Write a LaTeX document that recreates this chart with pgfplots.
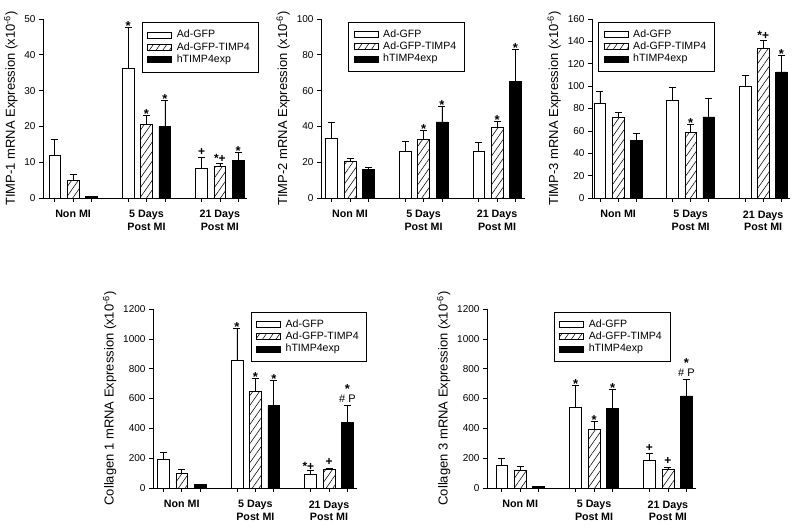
\documentclass[border=0pt]{standalone}
\usepackage{pgfplots}
\pgfplotsset{compat=1.18}
\usepackage{fontspec}
\setmainfont{Liberation Sans}
\usetikzlibrary{patterns.meta}

\tikzset{
  ann/.style={anchor=south, inner sep=0pt, yshift=-3.5pt, font=\fontsize{13}{13}\selectfont\bfseries},
  annp/.style={anchor=south, inner sep=0pt, yshift=2pt, font=\fontsize{12}{12}\selectfont\bfseries},
  annsp/.style={anchor=south, inner sep=0pt, yshift=0pt, font=\fontsize{12}{12}\selectfont\bfseries},
  annhp/.style={anchor=south, inner sep=0pt, yshift=2.5pt, align=center, font=\fontsize{11}{8.5}\selectfont},
}
\pgfplotsset{
  panel/.style={
    scale only axis,
    height=179pt,
    axis lines=left,
    axis line style={-, line width=0.6pt, black},
    ymin=0,
    xtick={-0.25,0,0.25,0.75,1,1.25,1.75,2,2.25},
    xticklabels={{},{Non MI},{},{},{5 Days\\Post MI},{},{},{21 Days\\Post MI},{}},
    xticklabel style={align=center, yshift=-5pt, font=\fontsize{10.7}{12.3}\selectfont\bfseries},
    tick align=outside,
    major tick length=4pt,
    tick style={line width=0.6pt, black},
    yticklabel style={font=\fontsize{10}{12}\selectfont},
    ylabel style={font=\fontsize{13}{15}\selectfont},
    /pgf/number format/assume math mode=true,
    /pgf/number format/1000 sep={},
    legend image code/.code={\draw[##1, line width=0.6pt] (0pt,-3pt) rectangle (24pt,3pt);},
    legend style={anchor=north west, draw=black, line width=0.6pt,
      font=\fontsize{10.6}{12}\selectfont,
      inner xsep=5pt, inner ysep=6.5pt,
      nodes={inner xsep=3pt, inner ysep=1.2pt, text height=7.8pt, text depth=2pt},
      /tikz/column sep=2pt},
    legend cell align=left,
    legend entries={Ad-GFP,Ad-GFP-TIMP4,hTIMP4exp},
    every axis plot/.append style={ybar, bar width=0.16, bar shift=0pt, draw=black, line width=0.6pt,
      error bars/y dir=plus, error bars/y explicit,
      error bars/error bar style={line width=0.6pt, black},
      error bars/error mark options={rotate=90, mark size=3.5pt, line width=0.6pt, black}},
  },
  wbar/.style={fill=white},
  hbar/.style={pattern={Lines[angle=55,distance=5.5pt,line width=0.55pt]}, pattern color=black},
  bbar/.style={fill=black},
}

\begin{document}
\begin{tikzpicture}
\path (0,0) rectangle (800pt,532pt);

% ---------- Panel 1: TIMP-1 ----------
\begin{axis}[panel, at={(43pt,334pt)}, anchor=south west, width=204pt,
  xmin=-0.41, xmax=2.37, ymax=50, ytick={0,10,20,30,40,50},
  ylabel={TIMP-1 mRNA Expression (x10\textsuperscript{-6})},
  legend style={at={(0.485,0.983)}}]
\addplot[wbar] coordinates {(-0.25,11.9) +- (0,4.6) (0.75,36.2) +- (0,11.4) (1.75,8.4) +- (0,2.9)};
\addplot[hbar] coordinates {(0,4.9) +- (0,1.6) (1,20.6) +- (0,2.5) (2,8.9) +- (0,0.9)};
\addplot[bbar] coordinates {(0.25,0.4) +- (0,0.1) (1.25,19.9) +- (0,7.5) (2.25,10.5) +- (0,2.4)};
\node[ann] at (axis cs:0.75,47.6) {*};
\node[ann] at (axis cs:1,23.1) {*};
\node[ann] at (axis cs:1.25,27.4) {*};
\node[annp] at (axis cs:1.75,11.3) {+};
\node[annsp] at (axis cs:2,9.8) {*+};
\node[ann] at (axis cs:2.25,12.9) {*};
\end{axis}

% ---------- Panel 2: TIMP-2 ----------
\begin{axis}[panel, at={(321pt,334pt)}, anchor=south west, width=204pt,
  xmin=-0.395, xmax=2.38, ymax=100, ytick={0,20,40,60,80,100},
  ylabel={TIMP-2 mRNA Expression (x10\textsuperscript{-6})},
  legend style={at={(0.134,0.985)}}]
\addplot[wbar] coordinates {(-0.25,33.2) +- (0,9.2) (0.75,26.1) +- (0,5.6) (1.75,26.3) +- (0,4.9)};
\addplot[hbar] coordinates {(0,20.7) +- (0,1.3) (1,32.6) +- (0,5.3) (2,39.6) +- (0,3.1)};
\addplot[bbar] coordinates {(0.25,16.0) +- (0,1.4) (1.25,42.5) +- (0,8.6) (2.25,65.3) +- (0,17.7)};
\node[ann] at (axis cs:1,37.9) {*};
\node[ann] at (axis cs:1.25,51.1) {*};
\node[ann] at (axis cs:2,42.7) {*};
\node[ann] at (axis cs:2.25,83.0) {*};
\end{axis}

% ---------- Panel 3: TIMP-3 ----------
\begin{axis}[panel, at={(592pt,334pt)}, anchor=south west, width=198pt,
  xmin=-0.36, xmax=2.37, ymax=160, ytick={0,20,40,60,80,100,120,140,160},
  ylabel={TIMP-3 mRNA Expression (x10\textsuperscript{-6})},
  legend style={at={(0.032,0.985)}}]
\addplot[wbar] coordinates {(-0.25,84.3) +- (0,11.0) (0.75,87.3) +- (0,11.8) (1.75,100.0) +- (0,9.5)};
\addplot[hbar] coordinates {(0,71.9) +- (0,5.0) (1,58.6) +- (0,7.4) (2,134.0) +- (0,7.4)};
\addplot[bbar] coordinates {(0.25,51.2) +- (0,6.2) (1.25,72.5) +- (0,16.6) (2.25,112.7) +- (0,14.8)};
\node[ann] at (axis cs:1,66.0) {*};
\node[annsp] at (axis cs:2,141.4) {*+};
\node[ann] at (axis cs:2.25,127.5) {*};
\end{axis}

% ---------- Panel 4: Collagen 1 ----------
\begin{axis}[panel, at={(153pt,44pt)}, anchor=south west, width=204pt,
  xmin=-0.39, xmax=2.38, ymax=1200, ytick={0,200,400,600,800,1000,1200},
  ylabel={Collagen 1 mRNA Expression (x10\textsuperscript{-6})},
  legend style={at={(0.479,0.985)}}]
\addplot[wbar] coordinates {(-0.25,192) +- (0,45) (0.75,858) +- (0,212) (1.75,94) +- (0,24)};
\addplot[hbar] coordinates {(0,98) +- (0,29) (1,650) +- (0,87) (2,123) +- (0,11)};
\addplot[bbar] coordinates {(0.25,22) +- (0,2) (1.25,552) +- (0,172) (2.25,440) +- (0,116)};
\node[ann] at (axis cs:0.75,1070) {*};
\node[ann] at (axis cs:1,737) {*};
\node[ann] at (axis cs:1.25,724) {*};
\node[annsp] at (axis cs:1.72,118) {*+};
\node[annp] at (axis cs:2,134) {+};
\node[annhp] at (axis cs:2.25,556) {{\fontsize{13}{8.5}\selectfont\bfseries *}\\\# P};
\end{axis}

% ---------- Panel 5: Collagen 3 ----------
\begin{axis}[panel, at={(487pt,44pt)}, anchor=south west, width=209pt,
  xmin=-0.45, xmax=2.38, ymax=1200, ytick={0,200,400,600,800,1000,1200},
  ylabel={Collagen 3 mRNA Expression (x10\textsuperscript{-6})},
  legend style={at={(0.32,0.985)}}]
\addplot[wbar] coordinates {(-0.25,152) +- (0,47) (0.75,538) +- (0,152) (1.75,188) +- (0,42)};
\addplot[hbar] coordinates {(0,121) +- (0,26) (1,391) +- (0,58) (2,127) +- (0,14)};
\addplot[bbar] coordinates {(0.25,13) +- (0,1) (1.25,532) +- (0,127) (2.25,617) +- (0,114)};
\node[ann] at (axis cs:0.75,690) {*};
\node[ann] at (axis cs:1,449) {*};
\node[ann] at (axis cs:1.25,659) {*};
\node[annp] at (axis cs:1.75,230) {+};
\node[annp] at (axis cs:2,141) {+};
\node[annhp] at (axis cs:2.25,731) {{\fontsize{13}{8.5}\selectfont\bfseries *}\\\# P};
\end{axis}
\end{tikzpicture}
\end{document}
